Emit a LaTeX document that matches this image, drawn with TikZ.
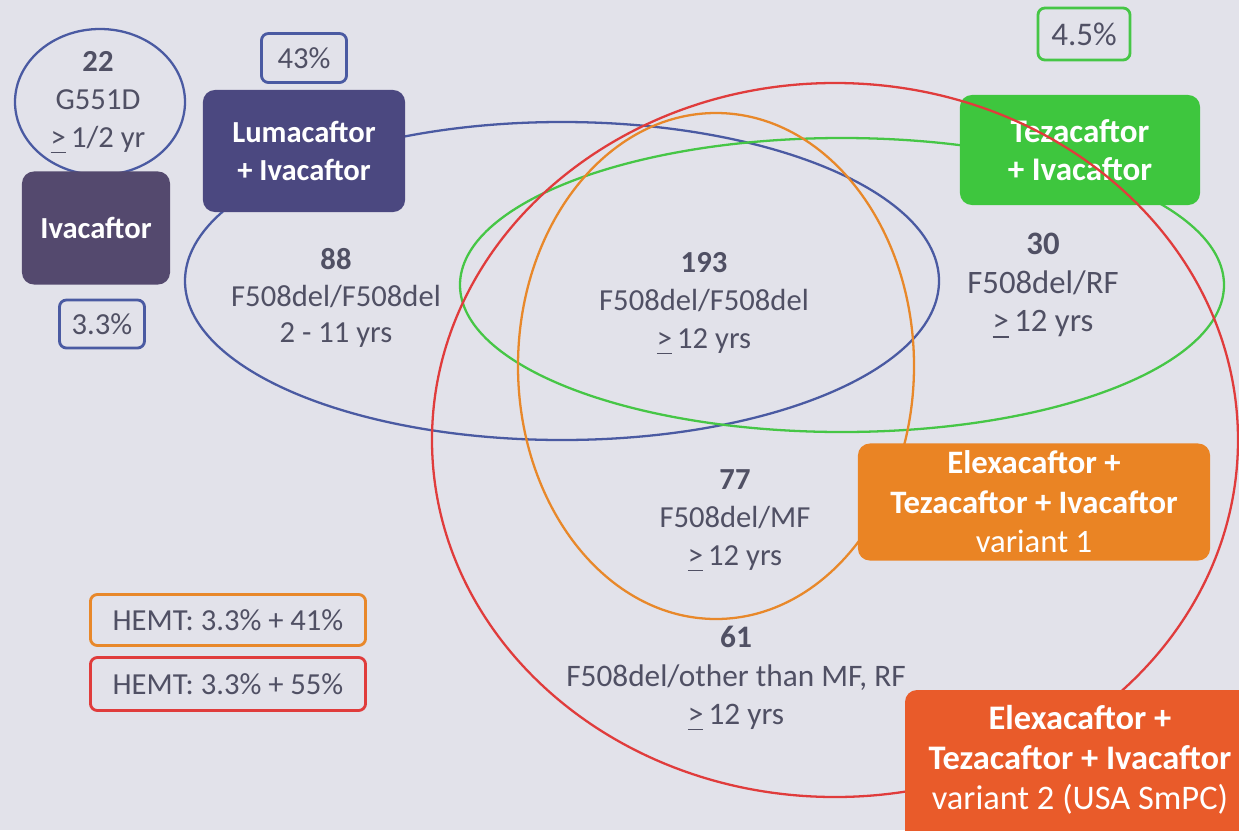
\documentclass[tikz,border=0pt]{standalone}
\usepackage{fontspec}
\setmainfont{Carlito}
\usetikzlibrary{shapes.geometric}
\definecolor{bgc}{HTML}{E2E2EA}
\definecolor{txt}{HTML}{505064}
\definecolor{blueln}{HTML}{4A5AA2}
\definecolor{greenln}{HTML}{46C646}
\definecolor{redln}{HTML}{E03C3C}
\definecolor{orangeln}{HTML}{E8882A}
\definecolor{ivac}{HTML}{54496E}
\definecolor{luma}{HTML}{4B4880}
\definecolor{teza}{HTML}{3EC63E}
\definecolor{var1}{HTML}{EA8424}
\definecolor{var2}{HTML}{E95B2A}
\tikzset{
  every node/.style={font=\fontsize{8.7}{10.8}\selectfont, align=center, text=txt, inner sep=0pt},
  fillbox/.style={rounded corners=0.12cm, text=white, font=\fontsize{8.7}{10.6}\selectfont\bfseries},
  pctbox/.style={draw=#1, line width=0.8pt, rounded corners=0.07cm, fill=bgc},
  venn/.style={draw=#1, line width=0.65pt}
}
\begin{document}
\begin{tikzpicture}[x=0.01cm, y=-0.01cm]
\fill[bgc] (0,0) rectangle (1239,830);
\useasboundingbox (0,0) rectangle (1239,830);
\clip (0,0) rectangle (1239,830);
% Venn ellipses (under the boxes)
\draw[venn=blueln] (100,102) ellipse [x radius=85, y radius=73];
\draw[venn=blueln] (562,281) ellipse [x radius=377, y radius=159];
\draw[venn=greenln] (842,285) ellipse [x radius=382, y radius=147];
% top boxes
\node[fillbox, fill=ivac, minimum width=1.48cm, minimum height=1.13cm] (ivabox) at (96,228) {Ivacaftor};
\node[fillbox, fill=luma, minimum width=2.02cm, minimum height=1.22cm] (lumabox) at (304,151) {Lumacaftor\\+ Ivacaftor};
\node[fillbox, fill=teza, minimum width=2.40cm, minimum height=1.10cm, font=\fontsize{9.4}{11}\selectfont\bfseries] (tezabox) at (1080,150) {Tezacaftor\\+ Ivacaftor};
% red and orange
\draw[venn=redln] (835,440) ellipse [x radius=403, y radius=357];
\draw[venn=orangeln] (716,366) ellipse [x radius=198, y radius=253];
% variant boxes
\node[fillbox, fill=var1, minimum width=3.52cm, minimum height=1.17cm, font=\fontsize{9.3}{11.2}\selectfont\bfseries] (var1box) at (1034,502) {Elexacaftor +\\Tezacaftor + Ivacaftor\\\mdseries variant 1};
\fill[var2, rounded corners=0.12cm] (905,690) rectangle (1300,850);
\node[text=white, font=\fontsize{9.8}{11.4}\selectfont\bfseries] (var2box) at (1080,760) {Elexacaftor +\\Tezacaftor + Ivacaftor\\\mdseries variant 2 (USA SmPC)};
% percentage boxes
\node[pctbox=blueln, minimum width=0.85cm, minimum height=0.49cm] (p43) at (304,58) {43\%};
\node[pctbox=blueln, minimum width=0.85cm, minimum height=0.48cm] (p33) at (102,324) {3.3\%};
\node[pctbox=greenln, minimum width=0.92cm, minimum height=0.52cm, font=\fontsize{9.4}{11}\selectfont] (p45) at (1084,34) {4.5\%};
\node[pctbox=orangeln, minimum width=2.75cm, minimum height=0.51cm] (hemt41) at (228,620) {HEMT: 3.3\% + 41\%};
\node[pctbox=redln, minimum width=2.75cm, minimum height=0.53cm] (hemt55) at (228,684) {HEMT: 3.3\% + 55\%};
% region labels
\node (g551) at (98,103) {\textbf{22}\\G551D\\\underline{>}\,1/2 yr};
\node[font=\fontsize{8.7}{10.4}\selectfont] (r88) at (336,298) {\textbf{88}\\F508del/F508del\\2 - 11 yrs};
\node (r193) at (704,304) {\textbf{193}\\F508del/F508del\\\underline{>}\,12 yrs};
\node[font=\fontsize{9.3}{11}\selectfont] (r30) at (1043,286) {\textbf{30}\\F508del/RF\\\underline{>}\,12 yrs};
\node (r77) at (735,521) {\textbf{77}\\F508del/MF\\\underline{>}\,12 yrs};
\node[font=\fontsize{8.9}{11}\selectfont] (r61) at (736,679) {\textbf{61}\\F508del/other than MF, RF\\\underline{>}\,12 yrs};
\end{tikzpicture}
\end{document}
